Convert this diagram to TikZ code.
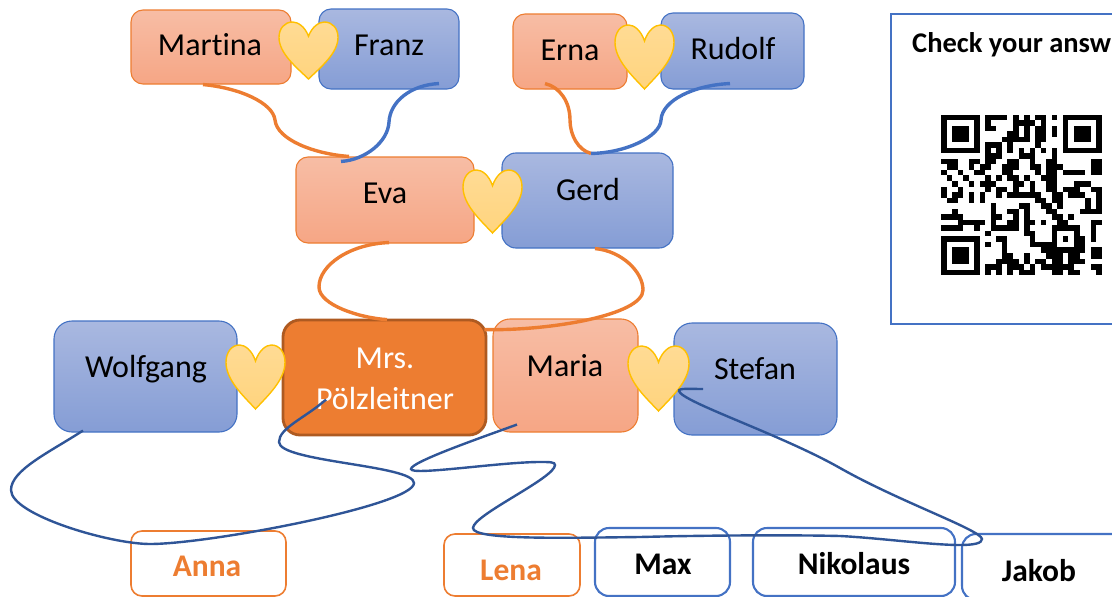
\documentclass[tikz,border=0pt]{standalone}
\usepackage{fontspec}
\setmainfont{Carlito}[Ligatures=NoCommon]
\definecolor{orA}{HTML}{ED7D31}
\definecolor{orB}{HTML}{AE5A21}
\definecolor{blA}{HTML}{4472C4}
\definecolor{navy}{HTML}{2F5597}
\definecolor{ftop}{HTML}{F7BDA5}
\definecolor{fbot}{HTML}{F6A685}
\definecolor{mtop}{HTML}{A9B8E0}
\definecolor{mbot}{HTML}{859DD5}
\definecolor{htop}{HTML}{FFDB94}
\definecolor{hbot}{HTML}{FFD47E}
\definecolor{hedge}{HTML}{FFC000}
\tikzset{
  boxbase/.style={rectangle,rounded corners=12pt,inner sep=0pt,line width=1.1pt},
  femalebox/.style={boxbase,draw=orA,top color=ftop,bottom color=fbot},
  malebox/.style={boxbase,draw=blA,top color=mtop,bottom color=mbot},
  herbox/.style={boxbase,draw=orB,fill=orA,line width=2.8pt,rounded corners=17pt},
  girlbox/.style={boxbase,draw=orA,line width=1.6pt,fill=white,rounded corners=11pt},
  boybox/.style={boxbase,draw=blA,line width=2.1pt,fill=white,rounded corners=14pt},
  qrbox/.style={rectangle,inner sep=0pt,draw=blA,line width=1.6pt,fill=white},
  lbl/.style={anchor=base,inner sep=0pt,font=\fontsize{32}{38}\selectfont,text=black},
  kid/.style={anchor=base,inner sep=0pt,font=\fontsize{31.5}{38}\selectfont\bfseries},
  orcurve/.style={draw=orA,line width=3.4pt},
  blcurve/.style={draw=blA,line width=3.4pt},
  nvcurve/.style={draw=navy,line width=2.4pt},
  heartstyle/.style={draw=hedge,line width=1.4pt,top color=htop,bottom color=hbot},
}
\newcommand{\famnode}[6]{% style,name,x0,y0,x1,y1
  \pgfmathsetmacro{\bw}{#5-#3}\pgfmathsetmacro{\bh}{#6-#4}
  \pgfmathsetmacro{\bx}{(#3+#5)/2}\pgfmathsetmacro{\by}{(#4+#6)/2}
  \node[#1,minimum width=\bw pt,minimum height=\bh pt] (#2) at (\bx,\by) {};}
\newcommand{\heartshape}[4]{% x0,y0,w,h
  \begin{scope}[shift={(#1,#2)},x=#3pt,y=-#4pt]
  \path[heartstyle] (0.5,0.25) .. controls (0.44,0.08) and (0.32,0) .. (0.23,0)
    .. controls (0.09,0) and (0,0.12) .. (0,0.27)
    .. controls (0,0.55) and (0.3,0.8) .. (0.5,1)
    .. controls (0.7,0.8) and (1,0.55) .. (1,0.27)
    .. controls (1,0.12) and (0.91,0) .. (0.77,0)
    .. controls (0.68,0) and (0.56,0.08) .. (0.5,0.25) -- cycle;
  \end{scope}}
\newcount\qrc
\def\qrscan#1{\ifx#1\relax\else\if#11\fill[black] (\the\qrc,\qrr) rectangle ++(1,1);\fi\advance\qrc by 1 \expandafter\qrscan\fi}
\newcommand{\qrrow}[2]{\def\qrr{#1}\qrc=0 \qrscan#2\relax}
\begin{document}
\begin{tikzpicture}[x=1pt,y=-1pt]
\useasboundingbox (0,0) rectangle (1112,597);
\clip (0,0) rectangle (1112,597);
% top generation
\famnode{femalebox}{martina}{131}{10}{291}{84}
\famnode{malebox}{franz}{319}{9}{459}{89}
\famnode{femalebox}{erna}{513}{14}{627}{89}
\famnode{malebox}{rudolf}{661}{13}{804}{89}
\heartshape{279}{22}{59}{57}
\heartshape{615}{25}{59}{64}
% middle generation
\famnode{femalebox}{eva}{296}{157}{474}{243}
\famnode{malebox,rounded corners=14pt}{gerd}{502}{153}{673}{248}
\heartshape{463}{170}{59}{63}
% third generation
\famnode{malebox,rounded corners=18pt}{wolfgang}{54}{321}{237}{432}
\famnode{herbox}{mrs}{283}{320}{486}{435}
\famnode{femalebox,rounded corners=17pt}{maria}{493}{319}{638}{432}
\famnode{malebox,rounded corners=18pt}{stefan}{674}{323}{837}{435}
\heartshape{226}{345}{59}{64}
\heartshape{628}{346}{61}{65}
% children
\famnode{girlbox}{anna}{131}{531}{286}{596}
\famnode{girlbox}{lena}{444}{534}{580}{596}
\famnode{boybox}{max}{595}{528}{730}{596}
\famnode{boybox}{nikolaus}{753}{528}{955}{596}
\famnode{boybox}{jakob}{962}{534}{1130}{600}
% QR panel
\famnode{qrbox}{panel}{891}{14}{1130}{324}
\node[anchor=base west,inner sep=0pt,font=\fontsize{28.5}{32}\selectfont\bfseries] (check) at (912,52) {Check your answ};
\begin{scope}[shift={(941,114.5)},x=5.54pt,y=-5.54pt]
\qrrow{0}{11111110111101010110101111111}
\qrrow{1}{10000010100001111010001000001}
\qrrow{2}{10111010110001010110101011101}
\qrrow{3}{10111010000011010110101011101}
\qrrow{4}{10111010000111110110001011101}
\qrrow{5}{10000010111010000100001000001}
\qrrow{6}{11111110101010101010101111111}
\qrrow{7}{00000000111000111000100000000}
\qrrow{8}{11100110110011001001100000011}
\qrrow{9}{01100101100111001101110000011}
\qrrow{10}{10010011000110000101101111011}
\qrrow{11}{01001000101011010011100000000}
\qrrow{12}{00100101110001101001100011100}
\qrrow{13}{10010000101101001001101110011}
\qrrow{14}{10110101001011111100110111001}
\qrrow{15}{01100101000000000110110000101}
\qrrow{16}{00000000010000110011010000101}
\qrrow{17}{00100000010011010001100001111}
\qrrow{18}{11110000011001010000110100000}
\qrrow{19}{00011111010011011010011000011}
\qrrow{20}{11110010011111010000111110010}
\qrrow{21}{00000000100000011000100010010}
\qrrow{22}{11111110001100001000101011010}
\qrrow{23}{10000010100100001111100011000}
\qrrow{24}{10111010000100000011111111011}
\qrrow{25}{10111010000110010001110110011}
\qrrow{26}{10111010001111010110110111000}
\qrrow{27}{10000010111011101011111100011}
\qrrow{28}{11111110101010111000110110001}
\end{scope}
% labels
\node[lbl] (tmartina) at (210,55) {Martina};
\node[lbl] (tfranz) at (389,55) {Franz};
\node[lbl] (terna) at (570,60) {Erna};
\node[lbl] (trudolf) at (733,59) {Rudolf};
\node[lbl] (teva) at (385,203) {Eva};
\node[lbl] (tgerd) at (588,200) {Gerd};
\node[lbl] (twolfgang) at (146,377) {Wolfgang};
\node[lbl,anchor=center,align=center,text=white,font=\fontsize{32}{41}\selectfont] (tmrs) at (385,379) {Mrs.\\Pölzleitner};
\node[lbl] (tmaria) at (565,376) {Maria};
\node[lbl] (tstefan) at (755,379) {Stefan};
\node[kid,text=orA] (tanna) at (207,576) {Anna};
\node[kid,text=orA] (tlena) at (511,580) {Lena};
\node[kid] (tmax) at (663,574) {Max};
\node[kid] (tnikolaus) at (854,574) {Nikolaus};
\node[kid] (tjakob) at (1039,581) {Jakob};
% parent links
\draw[orcurve] ([xshift=-8pt]martina.south) .. controls (240,88) and (273,103) .. (275,120) .. controls (277,140) and (315,154) .. ([xshift=-36pt]eva.north);
\draw[blcurve] ([xshift=50pt,yshift=6pt]franz.south) .. controls (410,85) and (390,102) .. (389,122) .. controls (388,142) and (365,160) .. ([xshift=-44pt,yshift=-5pt]eva.north);
\draw[orcurve] ([xshift=-25pt,yshift=6pt]erna.south) .. controls (560,87) and (570,102) .. (570,120) .. controls (570,135) and (578,150) .. ([xshift=3.5pt,yshift=-1pt]gerd.north);
\draw[blcurve] ([xshift=-2.5pt,yshift=6pt]rudolf.south) .. controls (695,85) and (662,100) .. (661,120) .. controls (660,137) and (625,153) .. ([xshift=3.5pt,yshift=-1pt]gerd.north);
\draw[orcurve] ([xshift=4pt,yshift=1pt]eva.south) .. controls (350,244) and (319,265) .. (319,287) .. controls (319,305) and (360,318) .. ([xshift=2.5pt,yshift=-1pt]mrs.north);
\draw[orcurve] ([xshift=7.5pt]gerd.south) .. controls (622,251) and (643,272) .. (643,290) .. controls (643,315) and (550,331) .. ([xshift=-3pt,yshift=-11pt]mrs.north east);
% children links
\draw[nvcurve] ([xshift=-62.5pt,yshift=2pt]wolfgang.south) .. controls (50,452) and (11,470) .. (11,490) .. controls (11,515) and (110,544) .. (150,544) .. controls (210,544) and (414,505) .. (414,483) .. controls (414,465) and (279,462) .. (279,442) .. controls (279,428) and (305,418) .. ([xshift=-58.5pt,yshift=-81pt]mrs.north);
\draw[nvcurve] ([xshift=-48.5pt,yshift=8pt]maria.south) .. controls (480,438) and (411,462) .. (411,469) .. controls (411,476) and (500,462) .. (540,462) .. controls (550,462) and (555,462) .. (555,465) .. controls (555,478) and (473,515) .. (473,528) .. controls (473,540) and (560,538) .. (640,537) .. controls (720,535) and (800,535) .. (840,536) .. controls (880,538) and (930,545) .. (960,545) .. controls (975,545) and (982,543) .. (982,539) .. controls (981,530) and (900,502) .. (840,468) .. controls (780,434) and (682,402) .. (679,391) .. controls (678,388) and (690,389) .. ([xshift=-52.5pt,yshift=-10pt]stefan.center);
\end{tikzpicture}
\end{document}
